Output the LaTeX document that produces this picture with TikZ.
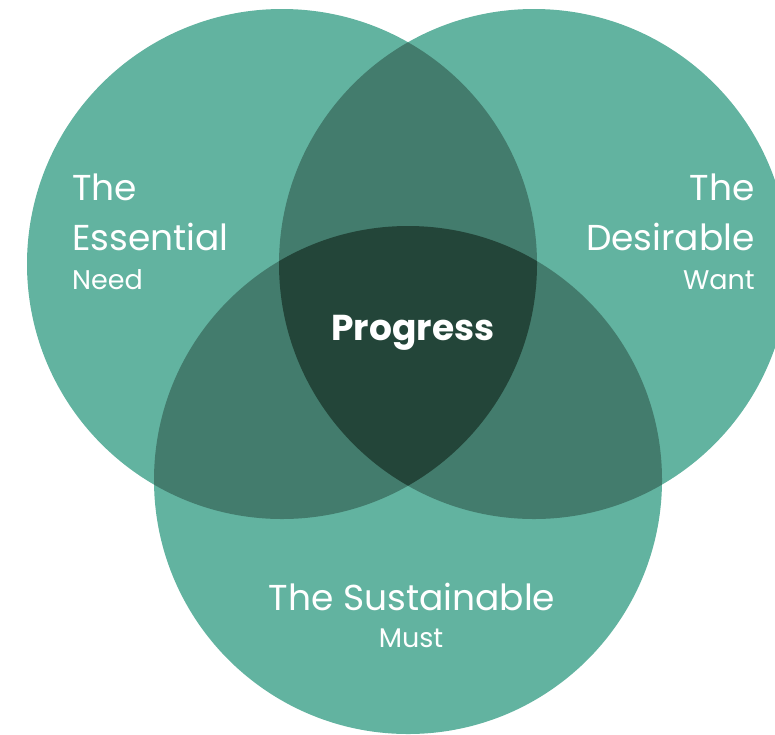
\documentclass[tikz,border=0pt]{standalone}
\usepackage{fontspec}
\setmainfont{Poppins}

\definecolor{vennone}{HTML}{62B3A0}
\definecolor{venntwo}{HTML}{437C6D}
\definecolor{vennthree}{HTML}{234539}

\begin{document}
\begin{tikzpicture}[x=1pt, y=-1pt,
    title/.style={text=white, inner sep=0pt, font=\fontsize{36}{36}\selectfont},
    sub/.style={text=white, inner sep=0pt, font=\fontsize{27}{27}\selectfont},
    core/.style={text=white, inner sep=0pt, font=\fontsize{36}{36}\selectfont\bfseries}
]
    \useasboundingbox (0,0) rectangle (775,734);
    \clip (0,0) rectangle (775,734);
    \coordinate (ess) at (282,264);
    \coordinate (des) at (534,264);
    \coordinate (sus) at (408,480);
    % circles
    \fill[vennone] (ess) circle[radius=255];
    \fill[vennone] (des) circle[radius=255];
    \fill[vennone] (sus) circle[radius=254];
    % pairwise overlaps
    \begin{scope}
        \clip (ess) circle[radius=255];
        \fill[venntwo] (des) circle[radius=255];
        \fill[venntwo] (sus) circle[radius=254];
    \end{scope}
    \begin{scope}
        \clip (des) circle[radius=255];
        \fill[venntwo] (sus) circle[radius=254];
    \end{scope}
    % centre
    \begin{scope}
        \clip (ess) circle[radius=255];
        \clip (des) circle[radius=255];
        \fill[vennthree] (sus) circle[radius=254];
    \end{scope}
    % labels
    \node[title, anchor=base west] (ess1) at (72,200) {The};
    \node[title, anchor=base west] (ess2) at (72,250) {Essential};
    \node[sub, anchor=base west] (ess3) at (72,289) {Need};
    \node[title, anchor=base east] (des1) at (755,200) {The};
    \node[title, anchor=base east] (des2) at (755,250) {Desirable};
    \node[sub, anchor=base east] (des3) at (755,289) {Want};
    \node[core, anchor=base] (prog) at (413,340) {Progress};
    \node[title, anchor=base] (sus1) at (412,610) {The Sustainable};
    \node[sub, anchor=base] (sus2) at (411,647) {Must};
\end{tikzpicture}
\end{document}
